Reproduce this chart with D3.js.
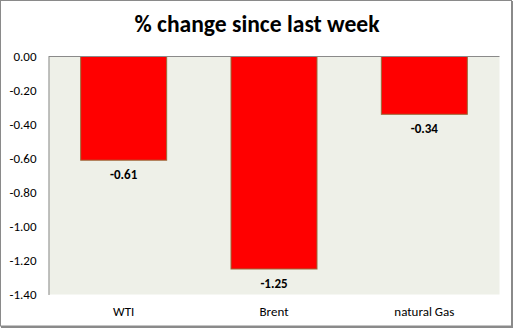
<!DOCTYPE html>
<html><head><meta charset="utf-8">
<script src="https://cdn.jsdelivr.net/npm/d3@7"></script>
<style>
html,body{margin:0;padding:0;background:#fff;}
svg{display:block;}
text{font-family:Carlito, Lato, "Open Sans", sans-serif;}
</style></head>
<body>
<svg id="chart" width="514" height="329"></svg>
<script>
const categories = ["WTI", "Brent", "natural Gas"];
const values = [-0.61, -1.25, -0.34];
const yTicks = [0, -0.2, -0.4, -0.6, -0.8, -1.0, -1.2, -1.4];
const title = "% change since last week";

const W = 514, H = 329;
const plot = {left: 48.5, top: 56.5, right: 499.5, bottom: 294.5};
const svg = d3.select("#chart");

// outer border
svg.append("rect").attr("x",0.5).attr("y",0.5).attr("width",511).attr("height",325.5)
  .attr("fill","#fff").attr("stroke","#8a8a8a").attr("stroke-width",1);
svg.append("line").attr("x1",512).attr("x2",512).attr("y1",1).attr("y2",327.5)
  .attr("stroke","#8a8a8a").attr("stroke-width",2);
svg.append("line").attr("x1",1).attr("x2",513).attr("y1",327).attr("y2",327)
  .attr("stroke","#8a8a8a").attr("stroke-width",2);

const x = d3.scaleBand().domain(categories).range([plot.left, plot.right]).paddingInner(0.428).paddingOuter(0.214);
const y = d3.scaleLinear().domain([0, -1.4]).range([plot.top, plot.bottom]);

// plot background
svg.append("rect").attr("x",plot.left).attr("y",plot.top)
  .attr("width",plot.right-plot.left).attr("height",plot.bottom-plot.top)
  .attr("fill","#eef0e8");

// bars
svg.append("g").selectAll("rect").data(values).join("rect")
  .attr("x",(d,i)=>x(categories[i]))
  .attr("y",y(0))
  .attr("width",x.bandwidth())
  .attr("height",d=>y(d)-y(0))
  .attr("fill","#ff0000")
  .attr("stroke","#9a6a3a").attr("stroke-width",1);

// axes
const yAxis = svg.append("g").attr("transform",`translate(${plot.left},0)`)
  .call(d3.axisLeft(y).tickValues(yTicks).tickFormat(d3.format(".2f")).tickSize(0).tickPadding(12));
yAxis.select(".domain").attr("stroke","#8a8a8a");
yAxis.selectAll("text").attr("font-size","13px").attr("fill","#000")
  .attr("font-family","Carlito, Lato, sans-serif").text(d=>d3.format(".2f")(d).replace("−","-"));

svg.append("line").attr("x1",plot.left).attr("x2",plot.right).attr("y1",y(0)).attr("y2",y(0))
  .attr("stroke","#8a8a8a").attr("stroke-width",1);

const xAxis = svg.append("g").attr("transform",`translate(0,${plot.bottom})`)
  .call(d3.axisBottom(x).tickSize(0).tickPadding(12));
xAxis.select(".domain").remove();
xAxis.selectAll("text").attr("font-size","13px").attr("fill","#000")
  .attr("font-family","Carlito, Lato, sans-serif");

// value labels
svg.append("g").selectAll("text").data(values).join("text")
  .attr("x",(d,i)=>x(categories[i])+x.bandwidth()/2)
  .attr("y",d=>y(d)+14)
  .attr("dy","0.35em")
  .attr("text-anchor","middle")
  .attr("font-size","13px").attr("font-weight","bold").attr("fill","#000")
  .text(d=>d3.format(".2f")(d).replace("−","-"));

// title
svg.append("text").attr("x",257).attr("y",32.3).attr("text-anchor","middle")
  .attr("font-size","23.6px").attr("font-weight","bold").attr("fill","#000")
  .text(title);
</script>
</body></html>
